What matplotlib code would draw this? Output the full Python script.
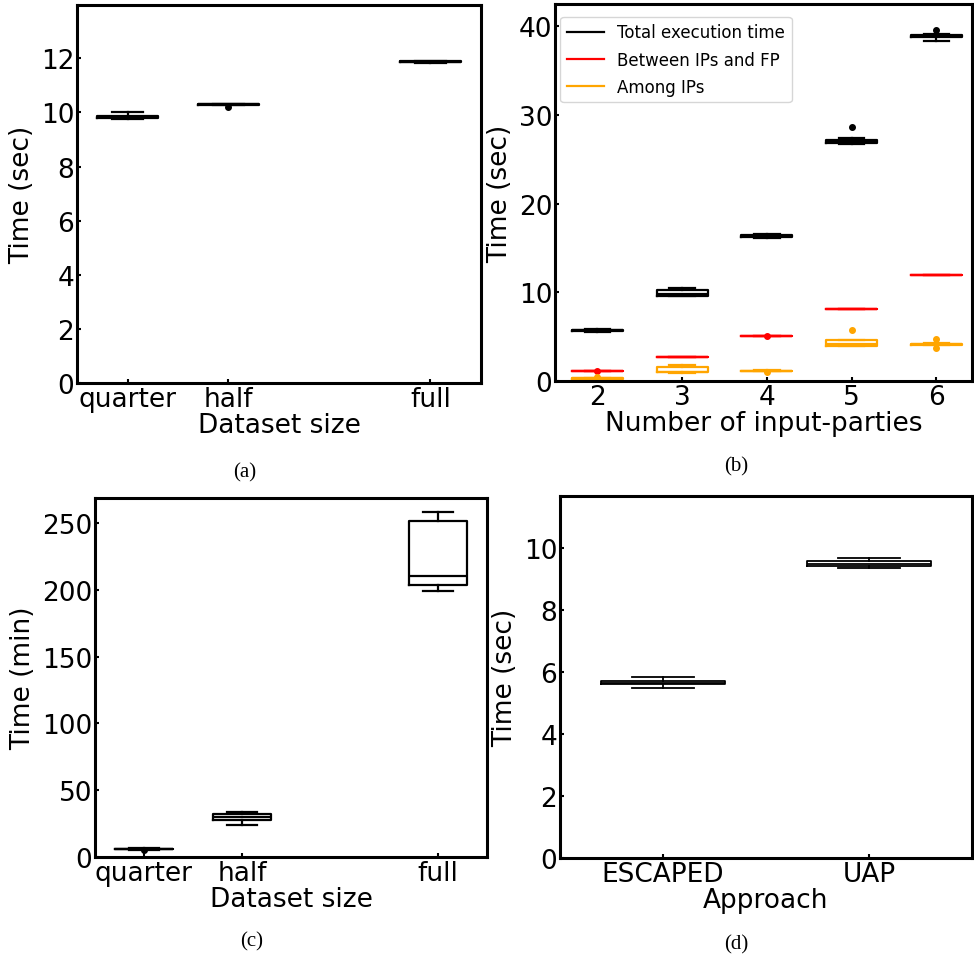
import matplotlib
matplotlib.use("Agg")
import matplotlib.pyplot as plt
from matplotlib.lines import Line2D

W, H = 974, 962

# ---- (a) dataset size vs time (sec)
a_labels = ["quarter", "half", "full"]
a_pos = [1, 2, 4]
a_med = [9.83, 10.30, 11.87]
a_q1 = [9.79, 10.29, 11.85]
a_q3 = [9.87, 10.31, 11.89]
a_lo = [9.77, 10.28, 11.84]
a_hi = [10.02, 10.32, 11.90]
a_fl = [[], [10.21], []]

# ---- (b) number of input parties
b_pos = [2, 3, 4, 5, 6]
b_total = dict(med=[5.70, 9.80, 16.35, 27.0, 38.9],
               q1=[5.62, 9.62, 16.25, 26.85, 38.8],
               q3=[5.78, 10.25, 16.45, 27.2, 39.0],
               lo=[5.55, 9.60, 16.15, 26.7, 38.3],
               hi=[5.85, 10.50, 16.55, 27.35, 39.1],
               fl=[[], [], [], [28.6], [39.6]])
b_between = dict(med=[1.15, 2.70, 5.05, 8.10, 11.96],
                 q1=[1.14, 2.69, 5.04, 8.09, 11.95],
                 q3=[1.16, 2.71, 5.06, 8.11, 11.97],
                 lo=[1.13, 2.68, 5.03, 8.08, 11.94],
                 hi=[1.17, 2.72, 5.07, 8.12, 11.98],
                 fl=[[1.15], [], [5.05], [], []])
b_among = dict(med=[0.30, 1.05, 1.15, 4.20, 4.16],
               q1=[0.28, 0.97, 1.12, 3.98, 4.10],
               q3=[0.33, 1.60, 1.18, 4.57, 4.22],
               lo=[0.26, 0.95, 1.10, 3.95, 4.05],
               hi=[0.36, 1.82, 1.20, 4.65, 4.28],
               fl=[[0.42], [], [0.97], [5.72], [4.76, 3.68]])
b_series = ["Total execution time", "Between IPs and FP", "Among IPs"]
b_colors = ["black", "red", "orange"]

# ---- (c) dataset size vs time (min)
c_labels = ["quarter", "half", "full"]
c_pos = [1, 2, 4]
c_med = [6.0, 29.9, 210.0]
c_q1 = [5.8, 27.9, 203.7]
c_q3 = [6.2, 31.9, 251.3]
c_lo = [5.6, 24.2, 199.3]
c_hi = [6.4, 33.4, 258.4]
c_fl = [[5.5], [], []]

# ---- (d) approach
d_labels = ["ESCAPED", "UAP"]
d_pos = [1, 2]
d_med = [5.66, 9.50]
d_q1 = [5.61, 9.43]
d_q3 = [5.71, 9.57]
d_lo = [5.49, 9.36]
d_hi = [5.85, 9.68]
d_fl = [[], []]

FS = 19


def stats(med, q1, q3, lo, hi, fl):
    return [dict(med=m, q1=a, q3=b, whislo=l, whishi=h, fliers=f)
            for m, a, b, l, h, f in zip(med, q1, q3, lo, hi, fl)]


def box(ax, st, pos, color="black", lw=1.6):
    ax.bxp(st, positions=pos, widths=0.6, manage_ticks=False,
           boxprops=dict(color=color, linewidth=lw),
           whiskerprops=dict(color=color, linewidth=lw),
           capprops=dict(color=color, linewidth=lw),
           medianprops=dict(color=color, linewidth=lw),
           flierprops=dict(marker="o", markerfacecolor=color,
                           markeredgecolor=color, markersize=4))


def axes_px(left, top, right, bottom):
    return fig.add_axes([left / W, 1 - bottom / H,
                         (right - left) / W, (bottom - top) / H])


def style(ax):
    for s in ax.spines.values():
        s.set_linewidth(2.2)
    ax.tick_params(direction="in", length=3, width=1.5, labelsize=FS, pad=2)


fig = plt.figure(figsize=(W / 100, H / 100), dpi=100)

# (a)
ax = axes_px(77, 6, 481, 384)
box(ax, stats(a_med, a_q1, a_q3, a_lo, a_hi, a_fl), a_pos)
ax.set_xlim(0.5, 4.5)
ax.set_ylim(0, 13.97)
ax.set_yticks([0, 2, 4, 6, 8, 10, 12])
ax.set_xticks(a_pos)
ax.set_xticklabels(a_labels)
ax.set_xlabel("Dataset size", fontsize=FS, labelpad=0)
ax.set_ylabel("Time (sec)", fontsize=FS)
style(ax)

# (b)
ax = axes_px(555, 5, 972, 382)
for d, c in zip([b_total, b_between, b_among], b_colors):
    box(ax, stats(d["med"], d["q1"], d["q3"], d["lo"], d["hi"], d["fl"]), b_pos, c)
ax.set_xlim(1.5, 6.42)
ax.set_ylim(0, 42.5)
ax.set_yticks([0, 10, 20, 30, 40])
ax.set_xticks(b_pos)
ax.set_xlabel("Number of input-parties", fontsize=FS, labelpad=0)
ax.set_ylabel("Time (sec)", fontsize=FS)
handles = [Line2D([], [], color=c, linewidth=1.6) for c in b_colors]
ax.legend(handles, b_series, loc="upper left", fontsize=12,
          bbox_to_anchor=(0.005, 0.975), borderaxespad=0.2,
          handlelength=2.2, labelspacing=0.55)
style(ax)

# (c)
ax = axes_px(95, 499, 487, 858)
box(ax, stats(c_med, c_q1, c_q3, c_lo, c_hi, c_fl), c_pos)
ax.set_xlim(0.5, 4.5)
ax.set_ylim(0, 268.7)
ax.set_yticks([0, 50, 100, 150, 200, 250])
ax.set_xticks(c_pos)
ax.set_xticklabels(c_labels)
ax.set_xlabel("Dataset size", fontsize=FS, labelpad=0)
ax.set_ylabel("Time (min)", fontsize=FS)
style(ax)

# (d)
ax = axes_px(560, 497, 972, 859)
box(ax, stats(d_med, d_q1, d_q3, d_lo, d_hi, d_fl), d_pos, lw=1.3)
ax.set_xlim(0.5, 2.5)
ax.set_ylim(0, 11.68)
ax.set_yticks([0, 2, 4, 6, 8, 10])
ax.set_xticks(d_pos)
ax.set_xticklabels(d_labels)
ax.set_xlabel("Approach", fontsize=FS, labelpad=0)
ax.set_ylabel("Time (sec)", fontsize=FS)
style(ax)

# sub-figure captions
for txt, x, y in [("(a)", 245, 473), ("(b)", 736, 467),
                  ("(c)", 252, 942), ("(d)", 736, 945)]:
    fig.text(x / W, 1 - y / H, txt, ha="center", va="center",
             fontsize=15, family="Liberation Serif")

fig.savefig("out.png", dpi=100, facecolor="white")
